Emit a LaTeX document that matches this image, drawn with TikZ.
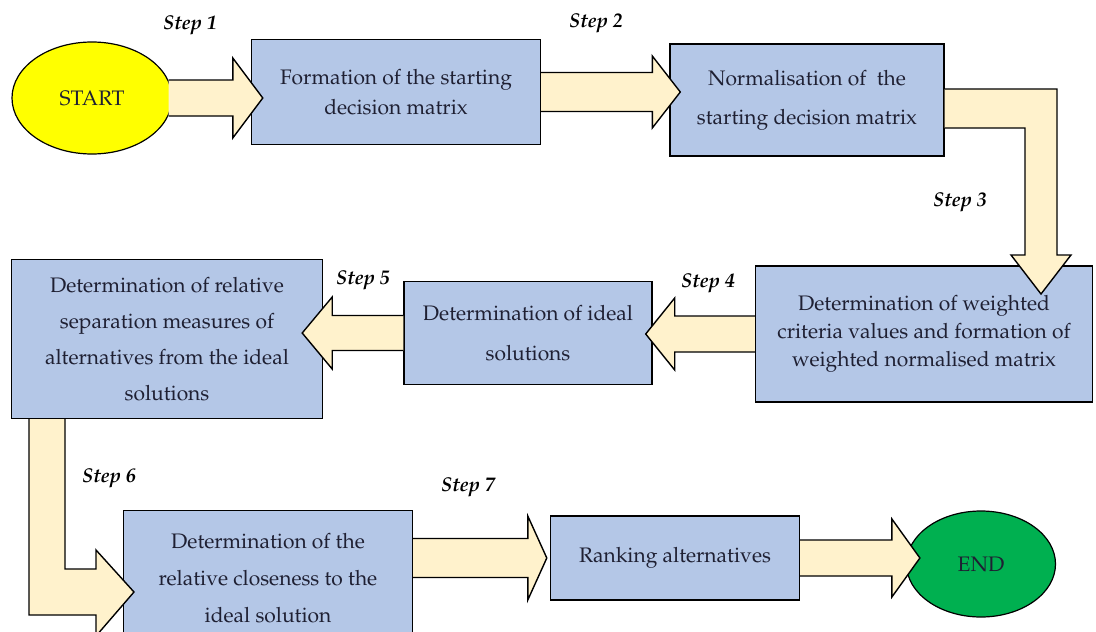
\documentclass[tikz,border=0pt]{standalone}
\usepackage[T1]{fontenc}
\usepackage{mathpazo}
\usetikzlibrary{shapes.geometric,calc}

\definecolor{boxblue}{HTML}{B4C7E7}
\definecolor{arrowcream}{HTML}{FFF2CC}
\definecolor{startyellow}{HTML}{FFFF00}
\definecolor{endgreen}{HTML}{00B050}
\definecolor{inkblue}{HTML}{1F2033}

\tikzset{
  stepbox/.style={draw=black, line width=1.4pt, fill=boxblue, text=inkblue, align=center},
  terminal/.style={ellipse, draw=black, line width=1.2pt, inner sep=0pt, text=inkblue,
    font=\fontsize{21}{24}\selectfont},
  steplabel/.style={font=\fontsize{20}{22}\selectfont\itshape\bfseries},
  fatbody/.style={draw=black, line width=1.4pt, fill=arrowcream, line join=miter},
  fat/.style n args={3}{fatbody, to path={let \p1=(\tikztostart), \p2=(\tikztotarget) in
    ({\x1},{\y1+#1pt}) -- ({\x2-(#3pt)},{\y1+#1pt}) -- ({\x2-(#3pt)},{\y1+#2pt})
    -- ({\x2},{\y1}) -- ({\x2-(#3pt)},{\y1-#2pt}) -- ({\x2-(#3pt)},{\y1-#1pt})
    -- ({\x1},{\y1-#1pt})}}
}

\begin{document}
\begin{tikzpicture}[x=1pt, y=-1pt]
	\useasboundingbox (0,0) rectangle (1096,632);
	\clip (0,0) rectangle (1096,632);

	% start and end
	\node [terminal, fill=startyellow, minimum width=160, minimum height=112] (start) at (92,98) {START};
	\node [terminal, fill=endgreen, minimum width=149, minimum height=106] (end) at (981,564) {END};

	% steps
	\node [stepbox, minimum width=289, minimum height=105, font=\fontsize{21}{30}\selectfont] (formation) at (396,92)
		{Formation of the starting\\decision matrix};
	\node [stepbox, minimum width=274, minimum height=112, font=\fontsize{21}{39}\selectfont] (normal) at (807,100)
		{Normalisation of\ \ the\\starting decision matrix};
	\node [stepbox, minimum width=337, minimum height=136, font=\fontsize{21}{28}\selectfont] (weighted) at (924,334)
		{Determination of weighted\\criteria values and formation of\\weighted normalised matrix};
	\node [stepbox, minimum width=248, minimum height=103, font=\fontsize{21}{40}\selectfont] (ideal) at (528,333)
		{Determination of ideal\\solutions};
	\node [stepbox, minimum width=311, minimum height=159, font=\fontsize{21}{36}\selectfont] (separation) at (167,339)
		{Determination of relative\\separation measures of\\alternatives from the ideal\\solutions};
	\node [stepbox, minimum width=289, minimum height=135, font=\fontsize{21}{37}\selectfont] (closeness) at (268,578)
		{Determination of the\\relative closeness to the\\ideal solution};
	\node [stepbox, minimum width=249, minimum height=84, font=\fontsize{21}{28}\selectfont] (ranking) at (675,558)
		{Ranking alternatives};

	% straight arrows
	\draw [fat={18}{40}{30}] ([xshift=-4]start.east) to ([xshift=12]formation.west);
	\draw [fat={19.5}{36}{28}] (formation.east) to ([xshift=11]normal.west);
	\draw [fat={18}{36}{-29}] (weighted.west) to ([xshift=-7]ideal.east);
	\draw [fat={17.5}{36}{-30}] (ideal.west) to ([xshift=-21]separation.east);
	\draw [fat={19.5}{42}{19}] (closeness.east |- ranking.west) to ([xshift=-3]ranking.west);
	\draw [fat={18}{39}{28}] (ranking.east) to ([xshift=14]end.west);

	% bent arrows
	\draw [fatbody] (normal.east |- 0,89) -- (1057,89) -- (1057,255) -- (1071,255) -- (1041,294)
		-- (1011,255) -- (1025,255) -- (1025,128) -- (normal.east |- 0,128);
	\draw [fatbody] (separation.south -| 29,0) -- (29,615) -- (96,615) -- (96,636) -- (134,592)
		-- (96,550) -- (96,569) -- (65,569) -- (separation.south -| 65,0);

	% step labels
	\node [steplabel] (s1) at (190,25) {Step 1};
	\node [steplabel] (s2) at (596,23) {Step 2};
	\node [steplabel] (s3) at (960,202) {Step 3};
	\node [steplabel] (s4) at (708,283) {Step 4};
	\node [steplabel] (s5) at (363,280) {Step 5};
	\node [steplabel] (s6) at (109,478) {Step 6};
	\node [steplabel] (s7) at (468,487) {Step 7};
\end{tikzpicture}
\end{document}
